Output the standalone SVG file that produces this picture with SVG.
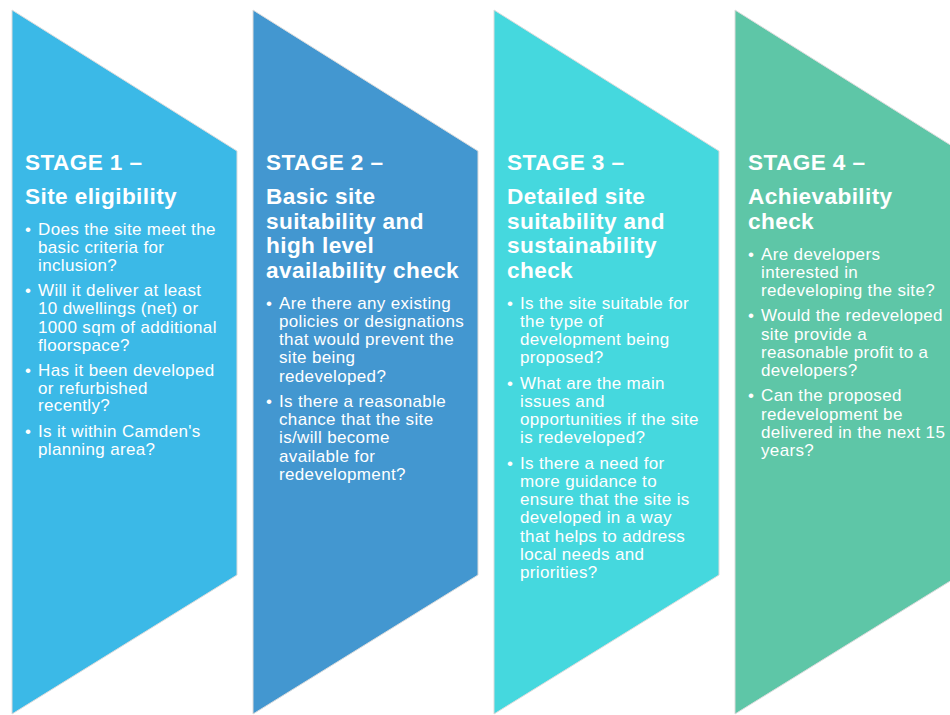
<svg xmlns="http://www.w3.org/2000/svg" width="950" height="715" viewBox="0 0 950 715">
<style>
.shape{stroke:#dcdcdc;stroke-width:1}
text{font-family:"Liberation Sans",Arial,sans-serif;fill:#ffffff}
.h{font-size:22.6px;font-weight:bold;letter-spacing:0.4px}
.b{font-size:17px;letter-spacing:0.35px}
</style>
<rect width="950" height="715" fill="#ffffff"/>
<g id="stage1">
<polygon class="shape" fill="#3BB9E7" points="12,10 237,151 237,575 12,714"/>
<text class="h"><tspan x="25" y="170">STAGE 1 –</tspan><tspan x="25" y="204">Site eligibility</tspan></text>
<text class="b">
<tspan x="25" y="235">•</tspan><tspan x="38" y="235">Does the site meet the</tspan><tspan x="38" y="253">basic criteria for</tspan><tspan x="38" y="271">inclusion?</tspan>
<tspan x="25" y="296">•</tspan><tspan x="38" y="296">Will it deliver at least</tspan><tspan x="38" y="314.3">10 dwellings (net) or</tspan><tspan x="38" y="332.6">1000 sqm of additional</tspan><tspan x="38" y="350.9">floorspace?</tspan>
<tspan x="25" y="375.5">•</tspan><tspan x="38" y="375.5">Has it been developed</tspan><tspan x="38" y="393.5">or refurbished</tspan><tspan x="38" y="411">recently?</tspan>
<tspan x="25" y="437">•</tspan><tspan x="38" y="437">Is it within Camden's</tspan><tspan x="38" y="455">planning area?</tspan>
</text>
</g>
<g id="stage2">
<polygon class="shape" fill="#4397D0" points="253,10 478,151 478,575 253,714"/>
<text class="h"><tspan x="266" y="170">STAGE 2 –</tspan><tspan x="266" y="204.3">Basic site</tspan><tspan x="266" y="228.8">suitability and</tspan><tspan x="266" y="253.3">high level</tspan><tspan x="266" y="277.8">availability check</tspan></text>
<text class="b">
<tspan x="266" y="308.5">•</tspan><tspan x="279" y="308.5">Are there any existing</tspan><tspan x="279" y="326.8">policies or designations</tspan><tspan x="279" y="345.1">that would prevent the</tspan><tspan x="279" y="363.4">site being</tspan><tspan x="279" y="381.7">redeveloped?</tspan>
<tspan x="266" y="406.8">•</tspan><tspan x="279" y="406.8">Is there a reasonable</tspan><tspan x="279" y="425.1">chance that the site</tspan><tspan x="279" y="443.4">is/will become</tspan><tspan x="279" y="461.7">available for</tspan><tspan x="279" y="480">redevelopment?</tspan>
</text>
</g>
<g id="stage3">
<polygon class="shape" fill="#45D8DE" points="494,10 719,151 719,575 494,714"/>
<text class="h"><tspan x="507" y="170">STAGE 3 –</tspan><tspan x="507" y="204.3">Detailed site</tspan><tspan x="507" y="228.8">suitability and</tspan><tspan x="507" y="253.3">sustainability</tspan><tspan x="507" y="277.8">check</tspan></text>
<text class="b">
<tspan x="507" y="308.5">•</tspan><tspan x="520" y="308.5">Is the site suitable for</tspan><tspan x="520" y="326.8">the type of</tspan><tspan x="520" y="345.1">development being</tspan><tspan x="520" y="363.4">proposed?</tspan>
<tspan x="507" y="388.5">•</tspan><tspan x="520" y="388.5">What are the main</tspan><tspan x="520" y="406.8">issues and</tspan><tspan x="520" y="425.1">opportunities if the site</tspan><tspan x="520" y="443.4">is redeveloped?</tspan>
<tspan x="507" y="468.5">•</tspan><tspan x="520" y="468.5">Is there a need for</tspan><tspan x="520" y="486.8">more guidance to</tspan><tspan x="520" y="505.1">ensure that the site is</tspan><tspan x="520" y="523.4">developed in a way</tspan><tspan x="520" y="541.7">that helps to address</tspan><tspan x="520" y="560">local needs and</tspan><tspan x="520" y="578.3">priorities?</tspan>
</text>
</g>
<g id="stage4">
<polygon class="shape" fill="#5EC6A7" points="735,10 960,151 960,575 735,714"/>
<text class="h"><tspan x="748" y="170">STAGE 4 –</tspan><tspan x="748" y="204.3">Achievability</tspan><tspan x="748" y="228.8">check</tspan></text>
<text class="b">
<tspan x="748" y="259.5">•</tspan><tspan x="761" y="259.5">Are developers</tspan><tspan x="761" y="277.8">interested in</tspan><tspan x="761" y="296.1">redeveloping the site?</tspan>
<tspan x="748" y="321.2">•</tspan><tspan x="761" y="321.2">Would the redeveloped</tspan><tspan x="761" y="339.5">site provide a</tspan><tspan x="761" y="357.8">reasonable profit to a</tspan><tspan x="761" y="376.1">developers?</tspan>
<tspan x="748" y="401.2">•</tspan><tspan x="761" y="401.2">Can the proposed</tspan><tspan x="761" y="419.5">redevelopment be</tspan><tspan x="761" y="437.8">delivered in the next 15</tspan><tspan x="761" y="456.1">years?</tspan>
</text>
</g>
</svg>
